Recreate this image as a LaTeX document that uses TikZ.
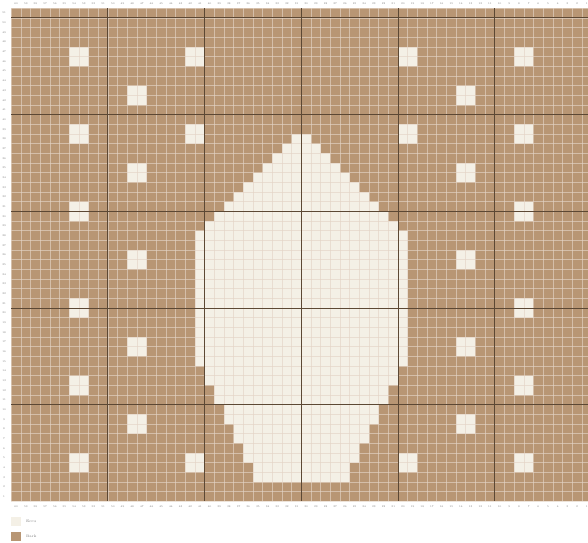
\documentclass[tikz,border=0pt]{standalone}
\usepackage{xcolor}
\usepackage{tikz}
\definecolor{bark}{RGB}{184, 150, 116}
\definecolor{ecru}{RGB}{244, 240, 230}
\definecolor{gridline}{RGB}{228, 212, 198}
\definecolor{majorline}{RGB}{92, 72, 52}
\definecolor{labelgray}{RGB}{120, 120, 120}

\begin{document}
\begin{tikzpicture}[
    x=9.67pt, y=-9.67pt,
    minor/.style={gridline, opacity=0.65, line width=0.6pt},
    major/.style={majorline, line width=1pt},
    axislabel/.style={font=\fontsize{2.6}{3}\selectfont, text=labelgray, inner sep=0pt},
    legendlabel/.style={font=\fontsize{3.6}{4}\selectfont, text=labelgray, inner sep=0pt, anchor=west}
]
    \useasboundingbox (-1.1686,-0.858) rectangle (59.64,55.29);
    \clip (-1.1686,-0.858) rectangle (59.64,55.29);
    \fill[white] (-1.1686,-0.858) rectangle (59.64,55.29);

    % background of the chart
    \fill[bark] (0,0) rectangle (60,51);

    % small squares, left half and mirrored
    \foreach \c/\r in {7/5, 7/13, 7/21, 7/31, 7/39, 7/47,
                       13/9, 13/17, 13/26, 13/35, 13/43,
                       19/5, 19/13, 19/47} {
        \fill[ecru] (\c-1,\r-1) rectangle (\c+1,\r+1);
        \fill[ecru] ({59-\c},\r-1) rectangle ({61-\c},\r+1);
    }

    % big motif, row by row
    \foreach \r/\l in {14/30, 15/29, 16/28, 17/27, 18/26, 19/25, 20/24,
                       21/23, 22/22, 23/21, 38/21, 39/21, 40/22, 41/22,
                       42/23, 43/23, 44/24, 45/24, 46/25, 47/25, 48/26, 49/26} {
        \fill[ecru] (\l-1,\r-1) rectangle ({61-\l},\r);
    }
    \fill[ecru] (19,23) rectangle (41,37);

    % grid
    \foreach \i in {0,...,60}
        \draw[minor] (\i,0) -- (\i,51);
    \foreach \j in {0,...,51}
        \draw[minor] (0,\j) -- (60,\j);
    \foreach \i in {10,20,...,50}
        \draw[major] (\i,0) -- (\i,51);
    \foreach \j in {1,11,...,41}
        \draw[major] (0,\j) -- (60,\j);

    % numbering
    \foreach \c in {1,...,60} {
        \pgfmathtruncatemacro\num{61-\c}
        \node[axislabel] (top\c) at (\c-0.5,-0.45) {\num};
        \node[axislabel] (bottom\c) at (\c-0.5,51.57) {\num};
    }
    \foreach \r in {1,...,51} {
        \pgfmathtruncatemacro\num{52-\r}
        \node[axislabel] (left\r) at (-0.75,\r-0.5) {\num};
    }

    % legend
    \fill[ecru] (0,52.57) rectangle (1,53.54);
    \node[legendlabel] (ecrulabel) at (1.5,53.05) {Ecru};
    \fill[bark] (0,54.13) rectangle (1,55.07);
    \node[legendlabel] (barklabel) at (1.5,54.6) {Bark};
\end{tikzpicture}
\end{document}
